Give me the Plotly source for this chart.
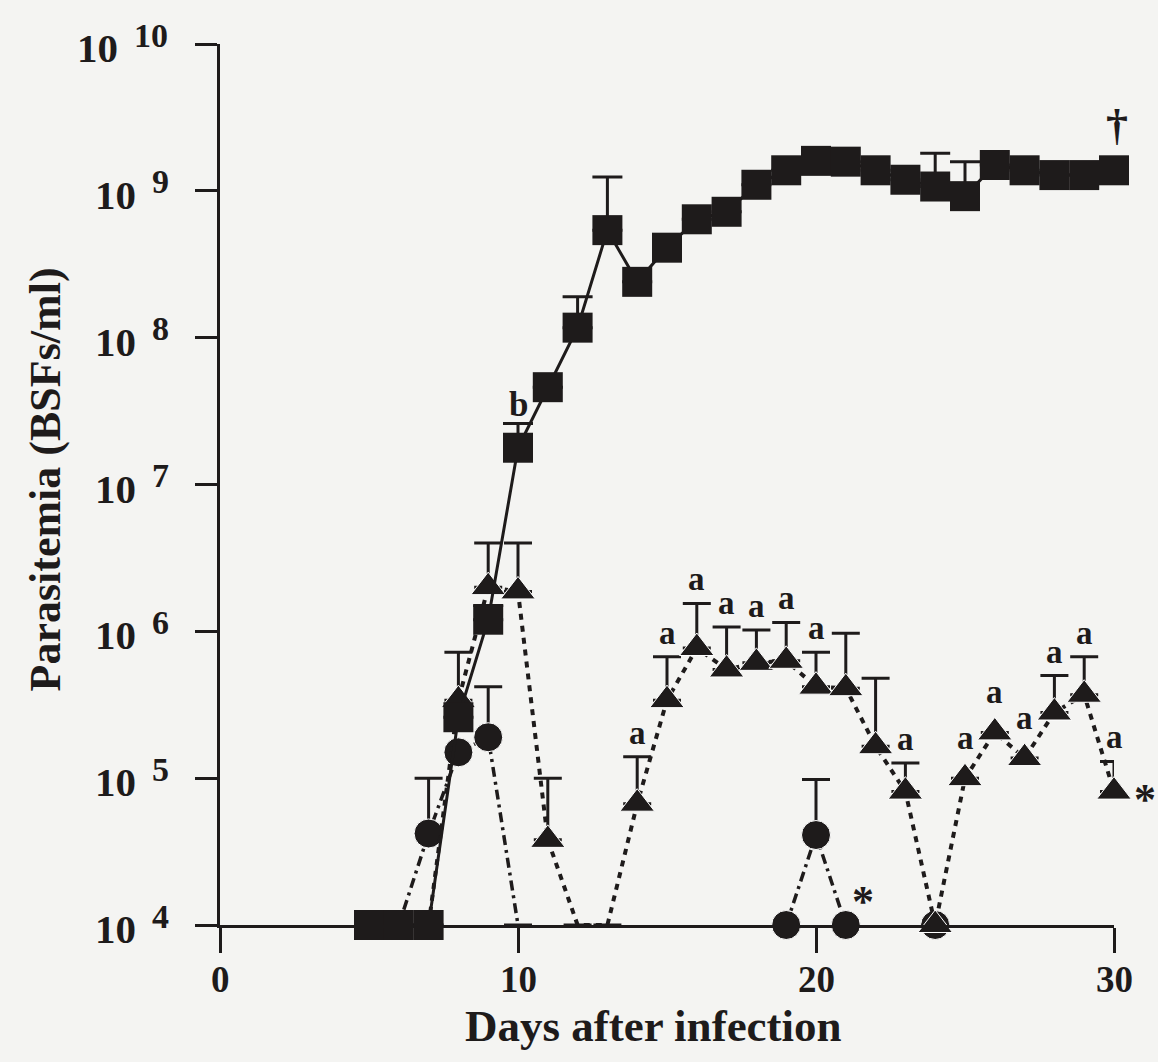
import math
import plotly.graph_objects as go

# ---------------- data ----------------
days = list(range(5, 31))

# closed squares (solid line)
square_vals = [1e4, 1e4, 1e4, 2.6e5, 1.2e6, 1.78e7, 4.6e7, 1.17e8, 5.4e8, 2.4e8,
               4.1e8, 6.4e8, 7.2e8, 1.1e9, 1.38e9, 1.6e9, 1.58e9, 1.38e9, 1.19e9,
               1.07e9, 9.2e8, 1.5e9, 1.38e9, 1.28e9, 1.28e9, 1.38e9]
square_upper = {9: 1.5e6, 10: 2.6e7, 12: 1.9e8, 13: 1.24e9, 24: 1.8e9, 25: 1.58e9}

# closed triangles (dotted line)
tri_vals = [1e4, 1e4, 1e4, 3.4e5, 2.0e6, 1.87e6, 3.8e4, 1e4, 1e4, 6.7e4,
            3.4e5, 7.7e5, 5.5e5, 6.1e5, 6.3e5, 4.2e5, 4.1e5, 1.65e5, 8.1e4,
            1e4, 1.0e5, 2.05e5, 1.37e5, 2.8e5, 3.7e5, 8.1e4]
tri_hidden = {5, 6, 7, 12, 13}
tri_upper = {8: 7.2e5, 9: 4.0e6, 10: 4.0e6, 11: 1.0e5, 14: 1.4e5, 15: 6.7e5,
             16: 1.55e6, 17: 1.07e6, 18: 1.02e6, 19: 1.15e6, 20: 7.2e5,
             21: 9.7e5, 22: 4.8e5, 23: 1.27e5, 28: 5.0e5, 29: 6.7e5, 30: 1.3e5}
sig_a_days = [14, 15, 16, 17, 18, 19, 20, 23, 25, 26, 27, 28, 29, 30]

# closed circles (dash-dot line)
circle_days = list(range(5, 25))
circle_vals = [1e4, 1e4, 4.2e4, 1.5e5, 1.9e5, 1e4, None, None, None, None,
               None, None, None, None, 1e4, 4.1e4, 1e4, None, None, 1e4]
circle_shown = {7, 8, 9, 19, 20, 21, 24}
circle_upper = {7: 1.0e5, 9: 4.2e5, 20: 9.8e4}

x_ticks = [0, 10, 20, 30]
y_decades = [4, 5, 6, 7, 8, 9, 10]

# ---------------- style ----------------
INK = "#1e1b1b"
BG = "#f4f4f2"
FONT = "Liberation Serif"
NAN = float("nan")


def err_plus(xs, vals, upper):
    out = []
    for d, v in zip(xs, vals):
        if d in upper and v is not None:
            out.append(upper[d] - v)
        else:
            out.append(NAN)
    return out


fig = go.Figure()

# circles
fig.add_trace(go.Scatter(
    x=circle_days, y=circle_vals, mode="lines+markers",
    line=dict(color=INK, width=3.5, dash="10px,5px,3px,5px"),
    marker=dict(symbol="circle", color=INK, opacity=1,
                size=[29 if d in circle_shown else 0 for d in circle_days]),
    error_y=dict(type="data", symmetric=False,
                 array=err_plus(circle_days, circle_vals, circle_upper),
                 arrayminus=[0] * len(circle_days),
                 color=INK, thickness=3, width=14),
    connectgaps=False, cliponaxis=False, showlegend=False,
))

# triangles
fig.add_trace(go.Scatter(
    x=days, y=tri_vals, mode="lines+markers",
    line=dict(color=INK, width=4, dash="6px,6px"),
    marker=dict(symbol="triangle-up", color=INK, opacity=1,
                size=[0 if d in tri_hidden else 30 for d in days]),
    error_y=dict(type="data", symmetric=False,
                 array=err_plus(days, tri_vals, tri_upper),
                 arrayminus=[0] * len(days),
                 color=INK, thickness=3, width=14),
    cliponaxis=False, showlegend=False,
))

# squares
fig.add_trace(go.Scatter(
    x=days, y=square_vals, mode="lines+markers",
    line=dict(color=INK, width=3),
    marker=dict(symbol="square", color=INK, size=30, opacity=1),
    error_y=dict(type="data", symmetric=False,
                 array=err_plus(days, square_vals, square_upper),
                 arrayminus=[0] * len(days),
                 color=INK, thickness=3, width=15),
    cliponaxis=False, showlegend=False,
))

annotations = []

# y tick labels: "10" with exponent
for e in y_decades:
    n = len(str(e))
    exp_left = 150 - 18 * (n - 1)
    base_right = exp_left - 12
    annotations.append(dict(
        x=0, xref="paper", xanchor="right", xshift=base_right - 220,
        y=e, yref="y", yanchor="middle", yshift=-4,
        text="<b>10</b>", showarrow=False,
        font=dict(family=FONT, size=41, color=INK)))
    annotations.append(dict(
        x=0, xref="paper", xanchor="left", xshift=exp_left - 220,
        y=e, yref="y", yanchor="middle", yshift=9,
        text="<b>%d</b>" % e, showarrow=False,
        font=dict(family=FONT, size=34, color=INK)))

# x tick labels
for t in x_ticks:
    annotations.append(dict(
        x=t, xref="x", y=-(979 - 925) / 881, yref="paper",
        xanchor="center", yanchor="middle", showarrow=False,
        text="<b>%d</b>" % t,
        font=dict(family=FONT, size=37, color=INK)))

# significance letters "a" above triangles
tri_map = dict(zip(days, tri_vals))
for d in sig_a_days:
    if d in tri_upper:
        top = tri_upper[d]
        shift = 4
    else:
        top = tri_map[d]
        shift = 20
    annotations.append(dict(
        x=d, y=math.log10(top), xref="x", yref="y",
        yanchor="bottom", yshift=shift, text="<b>a</b>", showarrow=False,
        font=dict(family=FONT, size=33, color=INK)))

# "b" above square day 10
annotations.append(dict(
    x=10, y=math.log10(square_upper[10]), xref="x", yref="y",
    yanchor="bottom", yshift=-2, text="<b>b</b>", showarrow=False,
    font=dict(family=FONT, size=35, color=INK)))

# dagger above last square
sq_map = dict(zip(days, square_vals))
annotations.append(dict(
    x=30, y=math.log10(sq_map[30]), xref="x", yref="y",
    yanchor="bottom", yshift=18, xshift=3, text="<b>†</b>", showarrow=False,
    font=dict(family=FONT, size=44, color=INK)))

# asterisks
annotations.append(dict(
    x=30, y=math.log10(tri_map[30]), xref="x", yref="y",
    xanchor="left", xshift=18, yshift=-8, text="<b>*</b>", showarrow=False,
    font=dict(family=FONT, size=44, color=INK)))
circ_map = dict(zip(circle_days, circle_vals))
annotations.append(dict(
    x=21, y=math.log10(circ_map[21]), xref="x", yref="y",
    xanchor="left", xshift=4, yshift=24, text="<b>*</b>", showarrow=False,
    font=dict(family=FONT, size=44, color=INK)))

# axis titles
annotations.append(dict(
    x=0.5, y=-(1026 - 925) / 881, xref="paper", yref="paper", xshift=-14,
    xanchor="center", yanchor="middle", showarrow=False,
    text="<b>Days after infection</b>",
    font=dict(family=FONT, size=45, color=INK)))
annotations.append(dict(
    x=(45 - 220) / 894, y=0.5, xref="paper", yref="paper", yshift=5,
    xanchor="center", yanchor="middle", textangle=-90, showarrow=False,
    text="<b>Parasitemia (BSFs/ml)</b>",
    font=dict(family=FONT, size=44, color=INK)))

fig.update_layout(
    width=1158, height=1062,
    margin=dict(l=220, r=44, t=44, b=137),
    paper_bgcolor=BG, plot_bgcolor=BG,
    font=dict(family=FONT, color=INK),
    annotations=annotations,
)

fig.update_xaxes(
    range=[0, 30], tickmode="array", tickvals=x_ticks,
    showticklabels=False,
    ticks="outside", ticklen=25, tickwidth=3, tickcolor=INK,
    showline=True, linewidth=3, linecolor=INK,
    showgrid=False, zeroline=False,
)
fig.update_yaxes(
    type="log", range=[4, 10], tick0=0, dtick=1,
    ticks="outside", ticklen=22, tickwidth=3, tickcolor=INK,
    showticklabels=False,
    showline=True, linewidth=3, linecolor=INK,
    showgrid=False, zeroline=False,
)

fig.write_html("out.html")
